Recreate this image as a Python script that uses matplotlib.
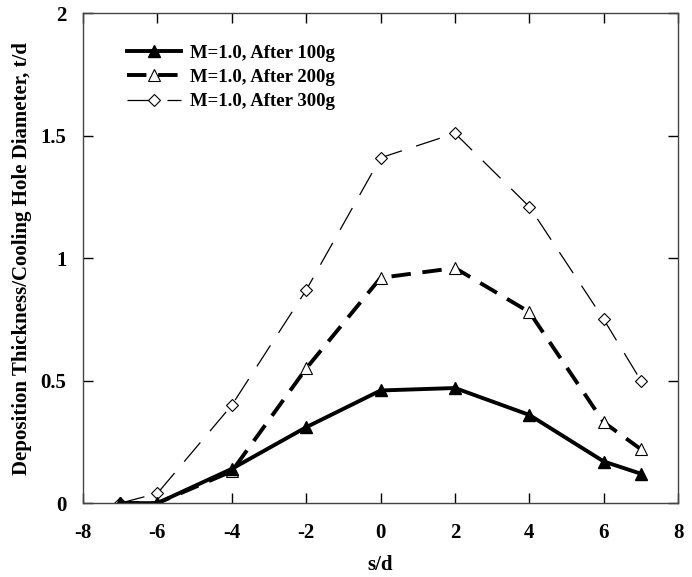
import matplotlib
matplotlib.use('Agg')
import matplotlib.pyplot as plt

plt.rcParams['font.family'] = ['Liberation Serif', 'DejaVu Serif']
plt.rcParams['font.weight'] = 'bold'
plt.rcParams['axes.unicode_minus'] = False

x = [-7, -6, -4, -2, 0, 2, 4, 6, 7]
after_100g = [0, 0, 0.14, 0.31, 0.46, 0.47, 0.36, 0.17, 0.12]
after_200g = [0, 0, 0.13, 0.55, 0.92, 0.96, 0.78, 0.33, 0.22]
after_300g = [0, 0.04, 0.40, 0.87, 1.41, 1.51, 1.21, 0.75, 0.50]
labels = ['M=1.0, After 100g', 'M=1.0, After 200g', 'M=1.0, After 300g']

fig = plt.figure(figsize=(6.92, 5.77), dpi=100)
ax = fig.add_axes([0.12, 0.128, 0.86, 0.849])

ax.plot(x, after_300g, color='black', lw=0.9, ls=(0, (20, 12)),
        marker='D', ms=6, mfc='white', mec='black', mew=0.8, label=labels[2])
ax.plot(x, after_200g, color='black', lw=2.8, ls=(0, (5, 3)),
        marker='^', ms=8, mfc='white', mec='black', mew=0.8, label=labels[1])
ax.plot(x, after_100g, color='black', lw=2.8, ls='-',
        marker='^', ms=8, mfc='black', mec='black', label=labels[0])

ax.set_xlim(-8, 8)
ax.set_ylim(0, 2)
ax.set_xticks(range(-8, 9, 2))
ax.set_yticks([0, 0.5, 1, 1.5, 2])
ax.set_yticklabels(['0', '0.5', '1', '1.5', '2'])
ax.tick_params(direction='in', top=True, right=True, length=7, width=1,
               labelsize=15)
ax.tick_params(axis='x', pad=14)
ax.tick_params(axis='y', pad=12)
for lab in ax.get_xticklabels() + ax.get_yticklabels():
    lab.set_fontweight('bold')
for sp in ax.spines.values():
    sp.set_linewidth(1)
    sp.set_color('#444444')

ax.set_xlabel('s/d', fontsize=15, fontweight='bold', labelpad=9)
ax.set_ylabel('Deposition Thickness/Cooling Hole Diameter, t/d',
              fontsize=15, fontweight='bold', labelpad=6)

h, l = ax.get_legend_handles_labels()
ax.legend(h[::-1], l[::-1], loc='upper left', bbox_to_anchor=(0.045, 0.97),
          frameon=False, handlelength=2.9,
          prop={'weight': 'bold', 'size': 13.5}, labelspacing=0.37,
          handletextpad=0.5)

fig.savefig('out.png', dpi=100)
